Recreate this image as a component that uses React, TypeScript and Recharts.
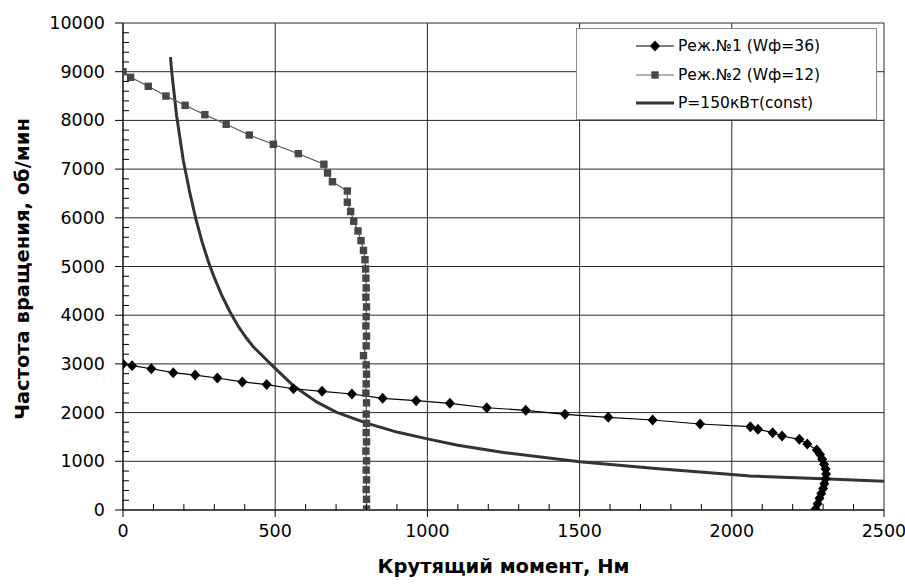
import { LineChart, Line, XAxis, YAxis, CartesianGrid, Legend } from 'recharts'

// Реж.№1 (Wф=36): torque, rpm
const mode1Torque = [0, 30, 93, 165, 237, 310, 392, 472, 560, 654, 752, 853, 963, 1074, 1195, 1323, 1452, 1594, 1740, 1896, 2061, 2086, 2134, 2165, 2222, 2248, 2279, 2290, 2297, 2303, 2308, 2310, 2308, 2304, 2300, 2294, 2288, 2282, 2275]
const mode1Rpm = [3000, 2963, 2900, 2820, 2770, 2710, 2630, 2575, 2490, 2437, 2382, 2293, 2244, 2190, 2100, 2047, 1965, 1903, 1848, 1766, 1711, 1657, 1588, 1520, 1451, 1355, 1232, 1140, 1040, 940, 840, 740, 640, 540, 440, 340, 240, 130, 20]

// Реж.№2 (Wф=12)
const mode2Torque = [0, 25, 83, 141, 204, 269, 339, 415, 494, 576, 660, 672, 688, 737, 737, 748, 758, 772, 782, 790, 795, 797, 798, 799, 798, 800, 799, 798, 800, 799, 790, 799, 800, 799, 798, 800, 799, 800, 799, 800, 798, 800]
const mode2Rpm = [9000, 8885, 8700, 8500, 8310, 8117, 7920, 7700, 7509, 7316, 7100, 6920, 6740, 6550, 6320, 6130, 5930, 5730, 5530, 5330, 5140, 4950, 4760, 4560, 4370, 4170, 3970, 3780, 3570, 3370, 3170, 2980, 2790, 2590, 2400, 2200, 1970, 1780, 1590, 1400, 1210, 1010]
const mode2TailTorque = [799, 800, 799, 800, 800]
const mode2TailRpm = [820, 620, 420, 220, 20]

// P=150кВт(const)
const powerTorque = [156, 160, 176, 198, 220, 240, 260, 280, 300, 325, 352, 380, 406, 428, 494, 560, 636, 700, 800, 900, 1000, 1100, 1250, 1500, 1750, 2000, 2060, 2300, 2500]
const powerRpm = [9300, 9000, 8100, 7180, 6500, 5960, 5500, 5110, 4770, 4400, 4060, 3760, 3526, 3353, 2943, 2550, 2220, 2010, 1785, 1600, 1460, 1330, 1180, 990, 850, 730, 700, 640, 590]

const xTicks = Array.from({ length: 26 }, (_, i) => i * 100)
const yTicks = Array.from({ length: 51 }, (_, i) => i * 200)
const xMajor = [0, 500, 1000, 1500, 2000, 2500]
const yMajor = [0, 1000, 2000, 3000, 4000, 5000, 6000, 7000, 8000, 9000, 10000]

const zip = (xs: number[], ys: number[]) => xs.map((x, i) => ({ x, y: ys[i] }))
const mode1 = zip(mode1Torque, mode1Rpm)
const mode2 = zip(mode2Torque.concat(mode2TailTorque), mode2Rpm.concat(mode2TailRpm))
const power = zip(powerTorque, powerRpm)

const FONT = '"DejaVu Sans", Verdana, sans-serif'

function Diamond({ cx, cy }: any) {
  if (cx == null || cy == null) return null
  return <path d={`M${cx},${cy - 5.5}L${cx + 5},${cy}L${cx},${cy + 5.5}L${cx - 5},${cy}Z`} fill="#000" />
}

function Square({ cx, cy }: any) {
  if (cx == null || cy == null) return null
  return <rect x={cx - 3.7} y={cy - 3.7} width={7.4} height={7.4} fill="#474747" />
}

// major ticks point outward with a label, minor ticks point into the plot
function XTick(props: any) {
  const { x, y, payload } = props
  const v = payload.value
  if (v % 500 === 0) {
    return (
      <g>
        <line x1={x} x2={x} y1={y} y2={y + 7} stroke="#000" />
        <text x={x} y={y + 27} textAnchor="middle" fontSize={17.5} fontFamily={FONT} fill="#000">{v}</text>
      </g>
    )
  }
  return (
    <g>
      <line x1={x} x2={x} y1={y} y2={y - 6} stroke="#000" />
    </g>
  )
}

function YTick(props: any) {
  const { x, y, payload } = props
  const v = payload.value
  if (v % 1000 === 0) {
    return (
      <g>
        <line x1={x} x2={x - 8} y1={y} y2={y} stroke="#000" />
        <text x={x - 18} y={y + 6} textAnchor="end" fontSize={17.5} fontFamily={FONT} fill="#000">{v}</text>
      </g>
    )
  }
  return (
    <g>
      <line x1={x} x2={x + 6} y1={y} y2={y} stroke="#000" />
    </g>
  )
}

const legendRows = [
  { name: 'Реж.№1 (Wф=36)', kind: 'diamond' },
  { name: 'Реж.№2 (Wф=12)', kind: 'square' },
  { name: 'P=150кВт(const)', kind: 'line' },
]

function LegendBox() {
  return (
    <div style={{ width: 301, height: 92, boxSizing: 'border-box', border: '1px solid #8a8a8a', background: '#fff', paddingTop: 3 }}>
      {legendRows.map((r) => (
        <div key={r.name} style={{ height: 28.5, display: 'flex', alignItems: 'center', paddingLeft: 58 }}>
          <svg width={40} height={14} style={{ marginRight: 3 }}>
            {r.kind === 'diamond' && (
              <>
                <line x1={1} x2={39} y1={7} y2={7} stroke="#000" strokeWidth={1.2} />
                <Diamond cx={20} cy={7} />
              </>
            )}
            {r.kind === 'square' && (
              <>
                <line x1={1} x2={39} y1={7} y2={7} stroke="#666" strokeWidth={1.2} />
                <Square cx={20} cy={7} />
              </>
            )}
            {r.kind === 'line' && <line x1={1} x2={39} y1={7} y2={7} stroke="#333" strokeWidth={3} />}
          </svg>
          <span style={{ fontFamily: FONT, fontSize: 15.5, color: '#000' }}>{r.name}</span>
        </div>
      ))}
    </div>
  )
}

export default function App() {
  return (
    <div style={{ position: 'absolute', left: 0, top: 0, background: '#fff' }}>
      <style>{'body{margin:0}'}</style>
      <LineChart width={905} height={587} margin={{ top: 23, right: 21, left: 0, bottom: 0 }}>
        <CartesianGrid
          stroke="#2a2a2a"
          strokeWidth={1}
          horizontalValues={yMajor}
          verticalValues={xMajor}
        />
        <XAxis
          type="number"
          dataKey="x"
          domain={[0, 2500]}
          ticks={xTicks}
          interval={0}
          tickSize={0}
          tickMargin={0}
          tickLine={false}
          tick={<XTick />}
          height={77}
          stroke="#000"
          allowDataOverflow
          label={{
            value: 'Крутящий момент, Нм',
            position: 'insideBottom',
            offset: 14,
            style: { fontFamily: FONT, fontSize: 19.5, fontWeight: 'bold', fill: '#000' },
          }}
        />
        <YAxis
          type="number"
          dataKey="y"
          domain={[0, 10000]}
          ticks={yTicks}
          interval={0}
          tickSize={0}
          tickMargin={0}
          tickLine={false}
          tick={<YTick />}
          width={123}
          stroke="#000"
          allowDataOverflow
          label={{
            content: () => (
              <text
                x={22}
                y={269}
                transform="rotate(-90, 22, 269)"
                textAnchor="middle"
                dominantBaseline="central"
                fontFamily={FONT}
                fontSize={19.5}
                fontWeight="bold"
                fill="#000"
              >
                Частота вращения, об/мин
              </text>
            ),
          }}
        />
        <Legend
          layout="vertical"
          align="center"
          verticalAlign="middle"
          content={() => <LegendBox />}
          wrapperStyle={{ left: 576, top: 28, width: 301, height: 92 }}
        />
        <Line
          data={power}
          dataKey="y"
          name="P=150кВт(const)"
          stroke="#333"
          strokeWidth={3}
          dot={false}
          activeDot={false}
          isAnimationActive={false}
        />
        <Line
          data={mode2}
          dataKey="y"
          name="Реж.№2 (Wф=12)"
          stroke="#555"
          strokeWidth={1.2}
          dot={<Square />}
          activeDot={false}
          isAnimationActive={false}
        />
        <Line
          data={mode1}
          dataKey="y"
          name="Реж.№1 (Wф=36)"
          stroke="#000"
          strokeWidth={1.2}
          dot={<Diamond />}
          activeDot={false}
          isAnimationActive={false}
        />
      </LineChart>
    </div>
  )
}
